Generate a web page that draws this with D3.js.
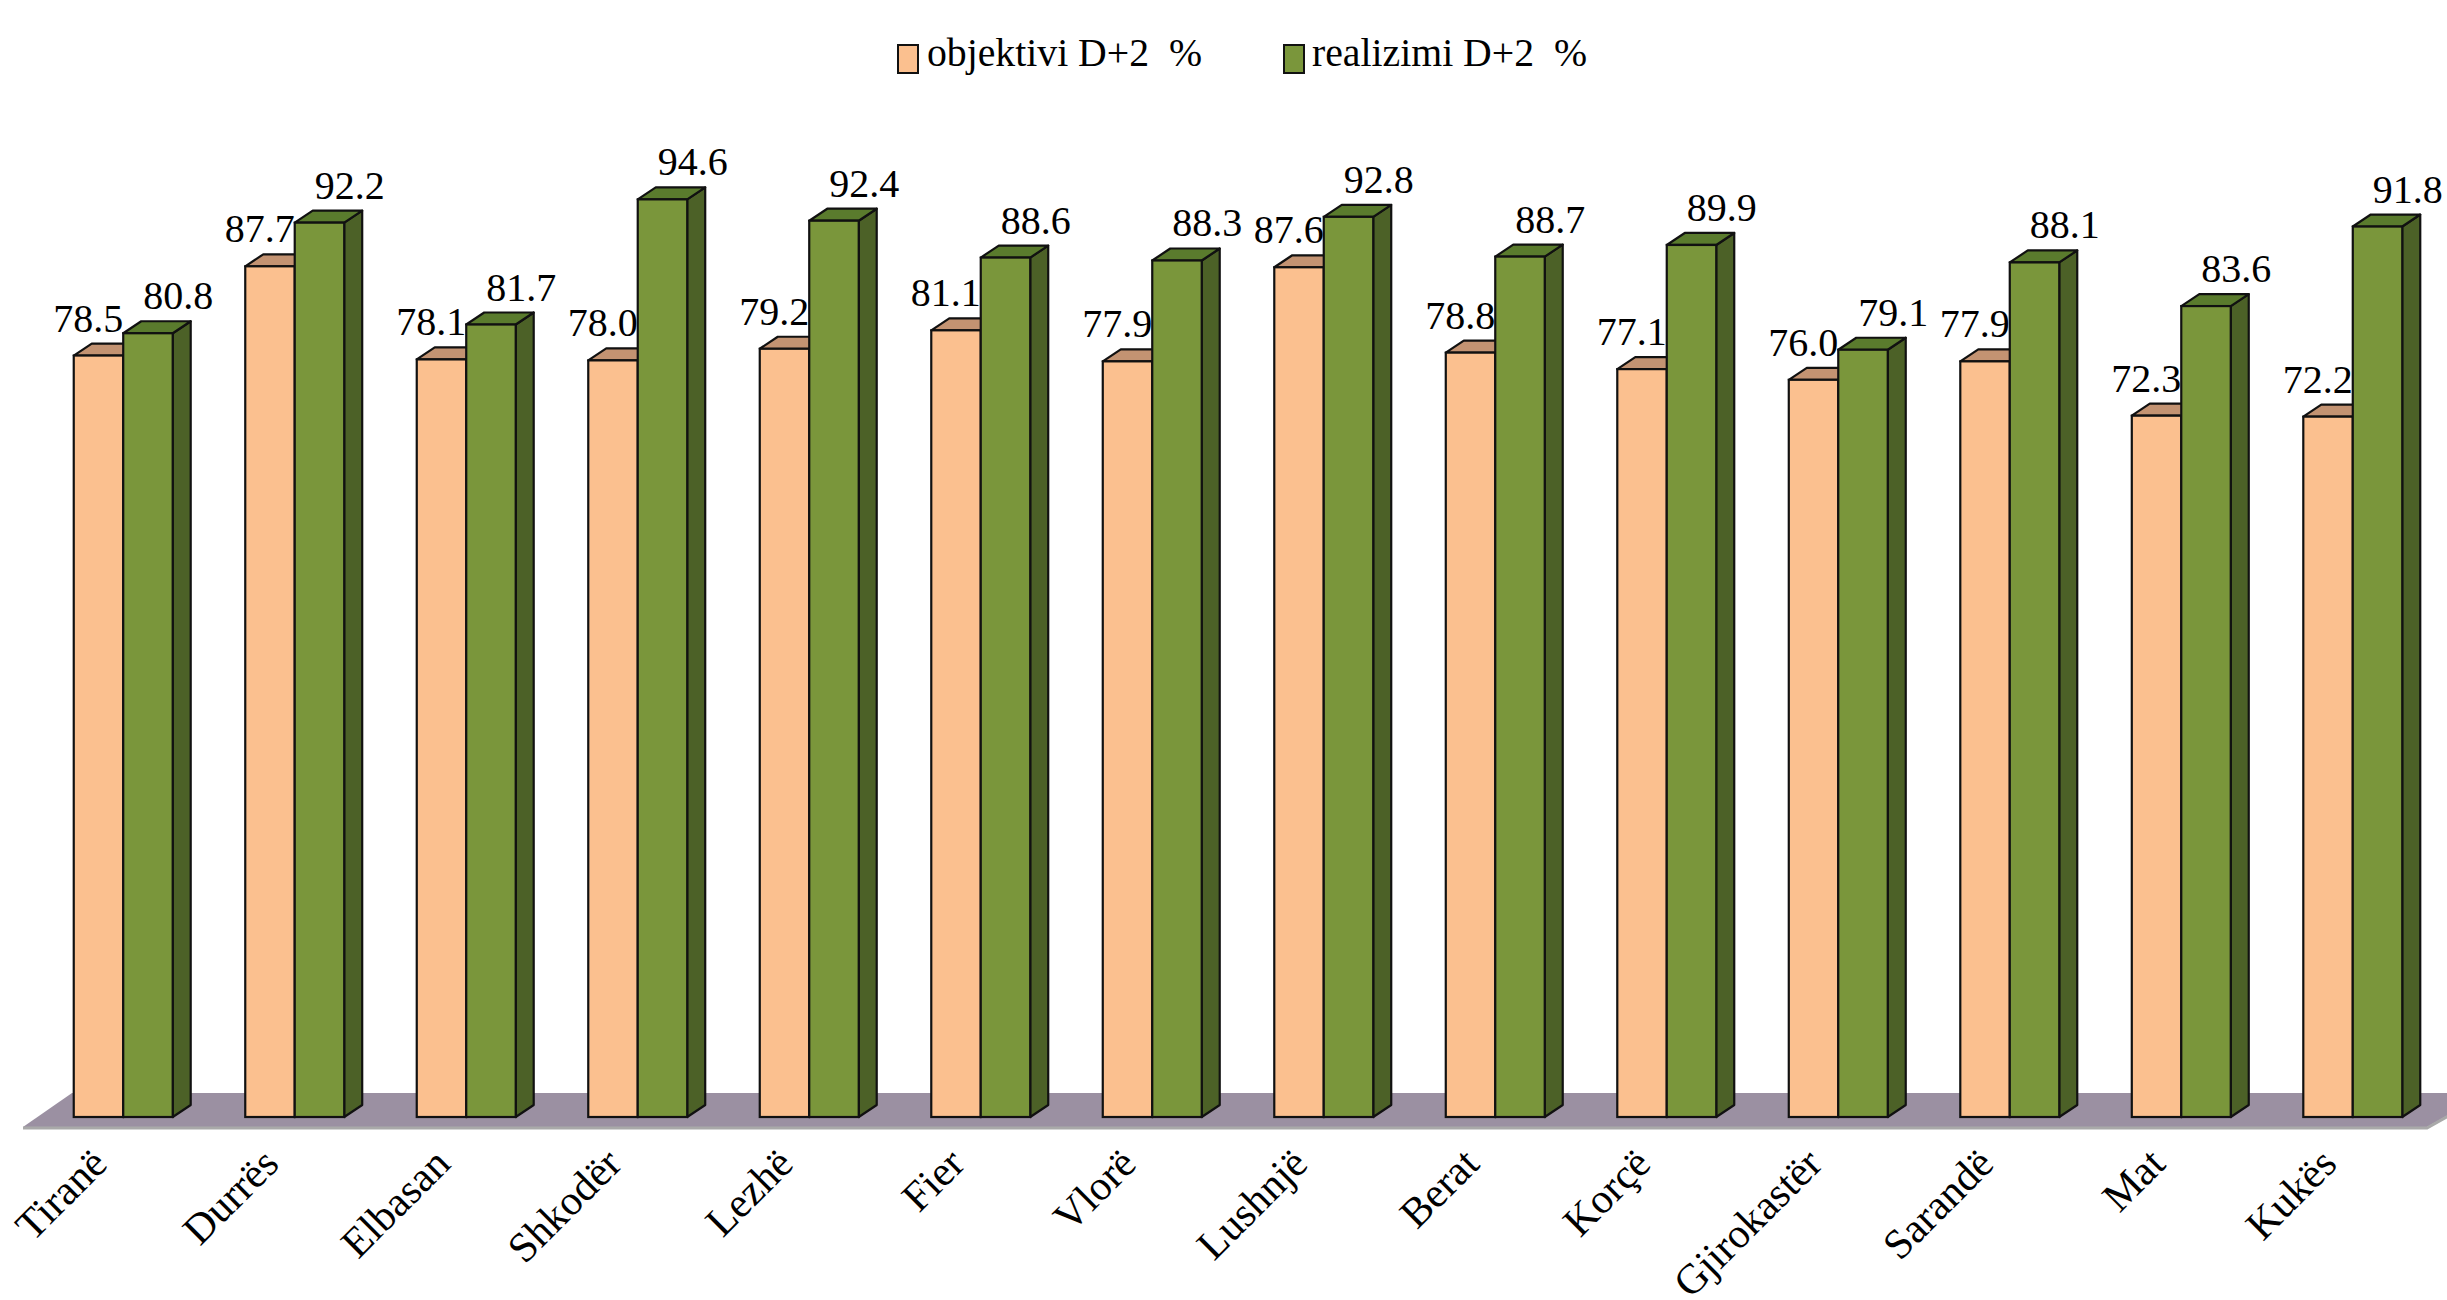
<!DOCTYPE html>
<html>
<head>
<meta charset="utf-8">
<script src="https://cdn.jsdelivr.net/npm/d3@7"></script>
<style>
  html, body { margin: 0; padding: 0; background: #ffffff; }
  svg { display: block; }
  text { font-family: "Liberation Serif", "Times New Roman", serif; fill: #000; }
</style>
</head>
<body>
<svg id="chart" width="2447" height="1300"></svg>
<script>
// ---- data ----
const categories = ["Tiranë", "Durrës", "Elbasan", "Shkodër", "Lezhë", "Fier", "Vlorë",
  "Lushnjë", "Berat", "Korçë", "Gjirokastër", "Sarandë", "Mat", "Kukës"];
const seriesNames = ["objektivi D+2  %", "realizimi D+2  %"];
const objektivi = [78.5, 87.7, 78.1, 78.0, 79.2, 81.1, 77.9, 87.6, 78.8, 77.1, 76.0, 77.9, 72.3, 72.2];
const realizimi = [80.8, 92.2, 81.7, 94.6, 92.4, 88.6, 88.3, 92.8, 88.7, 89.9, 79.1, 88.1, 83.6, 91.8];

// ---- styling ----
const W = 2447, H = 1300;
const baseY = 1117, topY = 147;        // value 0 and value 100
const DX = 18, DY = 12;                 // 3D depth offset
const colors = {
  [seriesNames[0]]: { front: "#fbc08f", top: "#c39372", side: "#b07a52" },
  [seriesNames[1]]: { front: "#7a963b", top: "#5a7b2d", side: "#4c6127" }
};

const svg = d3.select("#chart");

const x = d3.scaleBand().domain(categories).range([0, 2476]).paddingInner(0.423).paddingOuter(0.43);
const xs = d3.scaleBand().domain(seriesNames).range([0, x.bandwidth()]);
const y = d3.scaleLinear().domain([0, 100]).range([baseY, topY]);

// ---- floor ----
const floorBack = baseY - 24, floorFront = baseY + 10;
svg.append("path")
  .attr("d", `M72,${floorBack} L${W + 40},${floorBack} L2427,${floorFront} L23,${floorFront} Z`)
  .attr("fill", "#9b90a2");
svg.append("path")
  .attr("d", `M23,${floorFront + 1} L2427,${floorFront + 1} L${W + 40},${floorBack + 1}`)
  .attr("fill", "none").attr("stroke", "#a9a9a9").attr("stroke-width", 3);

// ---- bars ----
const rows = categories.map((c, i) => ({
  cat: c,
  vals: [
    { s: seriesNames[0], v: objektivi[i] },
    { s: seriesNames[1], v: realizimi[i] }
  ]
}));

const groups = svg.append("g").selectAll("g").data(rows).join("g")
  .attr("transform", d => `translate(${x(d.cat)},0)`);

const bars = groups.selectAll("g.bar").data(d => d.vals).join("g").attr("class", "bar");

bars.each(function(d) {
  const g = d3.select(this);
  const x0 = xs(d.s), w = xs.bandwidth();
  const yt = y(d.v), yb = y(0);
  const c = colors[d.s];
  const sw = 2.2;
  // side face
  g.append("path")
    .attr("d", `M${x0 + w},${yt} L${x0 + w + DX},${yt - DY} L${x0 + w + DX},${yb - DY} L${x0 + w},${yb} Z`)
    .attr("fill", c.side).attr("stroke", "#111").attr("stroke-width", sw).attr("stroke-linejoin", "round");
  // top face
  g.append("path")
    .attr("d", `M${x0},${yt} L${x0 + DX},${yt - DY} L${x0 + w + DX},${yt - DY} L${x0 + w},${yt} Z`)
    .attr("fill", c.top).attr("stroke", "#111").attr("stroke-width", sw).attr("stroke-linejoin", "round");
  // front face
  g.append("rect")
    .attr("x", x0).attr("y", yt).attr("width", w).attr("height", yb - yt)
    .attr("fill", c.front).attr("stroke", "#111").attr("stroke-width", sw);
});

// ---- value labels ----
bars.append("text")
  .attr("x", d => d.s === seriesNames[0] ? xs(d.s) + xs.bandwidth() : xs(d.s) + 55)
  .attr("y", d => y(d.v) - 24)
  .attr("text-anchor", d => d.s === seriesNames[0] ? "end" : "middle")
  .attr("font-size", 40)
  .text(d => d.v.toFixed(1));

// ---- category labels ----
svg.append("g").selectAll("text").data(categories).join("text")
  .attr("transform", d => `translate(${x(d) + x.bandwidth() / 2 - 14},${1166}) rotate(-45)`)
  .attr("text-anchor", "end")
  .attr("font-size", 42)
  .text(d => d);

// ---- legend ----
const legendItems = [
  { name: seriesNames[0], x: 898, tx: 927 },
  { name: seriesNames[1], x: 1284, tx: 1312 }
];
const lg = svg.append("g").selectAll("g").data(legendItems).join("g");
lg.append("rect")
  .attr("x", d => d.x).attr("y", 45).attr("width", 20).attr("height", 28)
  .attr("fill", d => colors[d.name].front).attr("stroke", "#111").attr("stroke-width", 2);
lg.append("text")
  .attr("x", d => d.tx).attr("y", 66)
  .attr("font-size", 40)
  .attr("textLength", 275)
  .attr("lengthAdjust", "spacingAndGlyphs")
  .style("white-space", "pre")
  .text(d => d.name);
</script>
</body>
</html>
